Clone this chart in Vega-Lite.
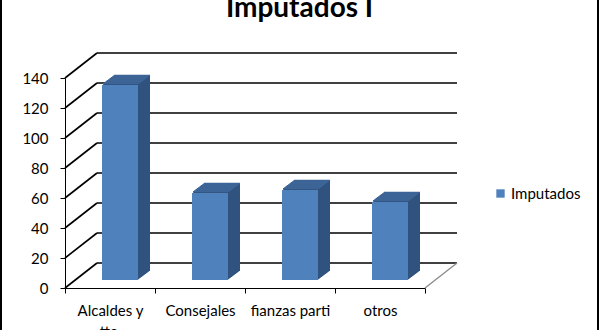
{
  "$schema": "https://vega.github.io/schema/vega-lite/v6.json",
  "width": 597,
  "height": 340,
  "autosize": {"type": "none"},
  "padding": {"left": 1, "top": -3, "right": 3, "bottom": 0},
  "background": "white",
  "config": {
    "font": "Lato",
    "view": {"stroke": "black", "strokeWidth": 2},
    "axisY": {"offset": -64, "domainColor": "black", "tickColor": "black", "tickSize": 5, "labelFontSize": 15, "labelColor": "black", "labelPadding": 12, "grid": false, "labelFont": "Lato"},
    "axisX": {"offset": -49, "domainColor": "black", "tickColor": "black", "tickSize": 5, "labelFontSize": 15, "labelColor": "black", "labelPadding": 10, "grid": false, "labelAngle": 0, "tickBand": "extent", "labelFont": "Lato", "labelLineHeight": 21, "labelExpr": "split(datum.label, '|')"}
  },
  "title": {"text": "Imputados I", "font": "Lato", "fontSize": 28, "fontWeight": "bold", "color": "black", "anchor": "middle", "frame": "group", "offset": -48, "baseline": "alphabetic"},
  "datasets": {
    "bars": [
      {"cat": "Alcaldes y|tte.", "v": 130},
      {"cat": "Consejales", "v": 58},
      {"cat": "fianzas parti", "v": 60},
      {"cat": "otros", "v": 52}
    ],
    "grid": [
      {"v": 0}, {"v": 20}, {"v": 40}, {"v": 60}, {"v": 80}, {"v": 100}, {"v": 120}, {"v": 140}
    ]
  },
  "encoding": {
    "x": {"field": "cat", "type": "nominal", "title": null, "sort": null,
      "scale": {"type": "band", "domain": ["Alcaldes y|tte.", "Consejales", "fianzas parti", "otros"], "range": [64, 424], "paddingInner": 0, "paddingOuter": 0}},
    "y": {"field": "v", "type": "quantitative", "title": null,
      "scale": {"domain": [0, 140], "range": [291, 81], "nice": false, "zero": true},
      "axis": {"values": [0, 20, 40, 60, 80, 100, 120, 140]}}
  },
  "layer": [
    {
      "data": {"name": "grid"},
      "mark": {"type": "rule", "color": "black", "strokeWidth": 1.6, "xOffset": 32, "x2Offset": 32, "yOffset": -25},
      "encoding": {
        "x": {"datum": "Alcaldes y|tte.", "bandPosition": 0},
        "x2": {"datum": "otros", "bandPosition": 1}
      }
    },
    {
      "data": {"name": "grid"},
      "mark": {"type": "rule", "color": "black", "strokeWidth": 1.6, "x2Offset": 32, "y2Offset": -25},
      "encoding": {
        "x": {"datum": "Alcaldes y|tte.", "bandPosition": 0},
        "x2": {"datum": "Alcaldes y|tte.", "bandPosition": 0},
        "y2": {"field": "v"}
      }
    },
    {
      "data": {"values": [{"v": 0}]},
      "mark": {"type": "rule", "color": "#8c8c8c", "strokeWidth": 1.4, "x2Offset": 32, "y2Offset": -25},
      "encoding": {
        "x": {"datum": "otros", "bandPosition": 1},
        "x2": {"datum": "otros", "bandPosition": 1},
        "y2": {"field": "v"}
      }
    },
    {
      "data": {"name": "bars"},
      "layer": [
        {"mark": {"type": "bar", "color": "#30527E", "width": {"band": 0.4}, "xOffset": 22, "yOffset": -17, "y2Offset": -17}},
        {"mark": {"type": "bar", "color": "#3C6496", "width": {"band": 0.4}, "xOffset": 22, "yOffset": -18.2, "y2Offset": -17}, "encoding": {"y2": {"field": "v"}}},
        {"mark": {"type": "bar", "color": "#30527E", "width": {"band": 0.4}, "xOffset": 21, "yOffset": -16.25, "y2Offset": -16.25}},
        {"mark": {"type": "bar", "color": "#3C6496", "width": {"band": 0.4}, "xOffset": 21, "yOffset": -17.45, "y2Offset": -16.25}, "encoding": {"y2": {"field": "v"}}},
        {"mark": {"type": "bar", "color": "#30527E", "width": {"band": 0.4}, "xOffset": 20, "yOffset": -15.5, "y2Offset": -15.5}},
        {"mark": {"type": "bar", "color": "#3C6496", "width": {"band": 0.4}, "xOffset": 20, "yOffset": -16.7, "y2Offset": -15.5}, "encoding": {"y2": {"field": "v"}}},
        {"mark": {"type": "bar", "color": "#30527E", "width": {"band": 0.4}, "xOffset": 19, "yOffset": -14.75, "y2Offset": -14.75}},
        {"mark": {"type": "bar", "color": "#3C6496", "width": {"band": 0.4}, "xOffset": 19, "yOffset": -15.95, "y2Offset": -14.75}, "encoding": {"y2": {"field": "v"}}},
        {"mark": {"type": "bar", "color": "#30527E", "width": {"band": 0.4}, "xOffset": 18, "yOffset": -14, "y2Offset": -14}},
        {"mark": {"type": "bar", "color": "#3C6496", "width": {"band": 0.4}, "xOffset": 18, "yOffset": -15.2, "y2Offset": -14}, "encoding": {"y2": {"field": "v"}}},
        {"mark": {"type": "bar", "color": "#30527E", "width": {"band": 0.4}, "xOffset": 17, "yOffset": -13.25, "y2Offset": -13.25}},
        {"mark": {"type": "bar", "color": "#3C6496", "width": {"band": 0.4}, "xOffset": 17, "yOffset": -14.45, "y2Offset": -13.25}, "encoding": {"y2": {"field": "v"}}},
        {"mark": {"type": "bar", "color": "#30527E", "width": {"band": 0.4}, "xOffset": 16, "yOffset": -12.5, "y2Offset": -12.5}},
        {"mark": {"type": "bar", "color": "#3C6496", "width": {"band": 0.4}, "xOffset": 16, "yOffset": -13.7, "y2Offset": -12.5}, "encoding": {"y2": {"field": "v"}}},
        {"mark": {"type": "bar", "color": "#30527E", "width": {"band": 0.4}, "xOffset": 15, "yOffset": -11.75, "y2Offset": -11.75}},
        {"mark": {"type": "bar", "color": "#3C6496", "width": {"band": 0.4}, "xOffset": 15, "yOffset": -12.95, "y2Offset": -11.75}, "encoding": {"y2": {"field": "v"}}},
        {"mark": {"type": "bar", "color": "#30527E", "width": {"band": 0.4}, "xOffset": 14, "yOffset": -11, "y2Offset": -11}},
        {"mark": {"type": "bar", "color": "#3C6496", "width": {"band": 0.4}, "xOffset": 14, "yOffset": -12.2, "y2Offset": -11}, "encoding": {"y2": {"field": "v"}}},
        {"mark": {"type": "bar", "color": "#30527E", "width": {"band": 0.4}, "xOffset": 13, "yOffset": -10.25, "y2Offset": -10.25}},
        {"mark": {"type": "bar", "color": "#3C6496", "width": {"band": 0.4}, "xOffset": 13, "yOffset": -11.45, "y2Offset": -10.25}, "encoding": {"y2": {"field": "v"}}},
        {"mark": {"type": "bar", "color": "#30527E", "width": {"band": 0.4}, "xOffset": 12, "yOffset": -9.5, "y2Offset": -9.5}},
        {"mark": {"type": "bar", "color": "#3C6496", "width": {"band": 0.4}, "xOffset": 12, "yOffset": -10.7, "y2Offset": -9.5}, "encoding": {"y2": {"field": "v"}}},
        {"mark": {"type": "bar", "color": "#30527E", "width": {"band": 0.4}, "xOffset": 11, "yOffset": -8.75, "y2Offset": -8.75}},
        {"mark": {"type": "bar", "color": "#3C6496", "width": {"band": 0.4}, "xOffset": 11, "yOffset": -9.95, "y2Offset": -8.75}, "encoding": {"y2": {"field": "v"}}},
        {
          "mark": {"type": "bar", "width": {"band": 0.4}, "xOffset": 10, "yOffset": -8, "y2Offset": -8},
          "encoding": {
            "color": {"datum": "Imputados", "type": "nominal",
              "scale": {"range": ["#4F81BD"]},
              "legend": {"orient": "none", "legendX": 492, "legendY": 189, "title": null, "symbolType": "square", "symbolSize": 70, "symbolStrokeWidth": 0, "labelFontSize": 15, "labelColor": "black", "labelFont": "Lato", "padding": 0, "labelOffset": 3}}
          }
        }
      ]
    }
  ]
}
